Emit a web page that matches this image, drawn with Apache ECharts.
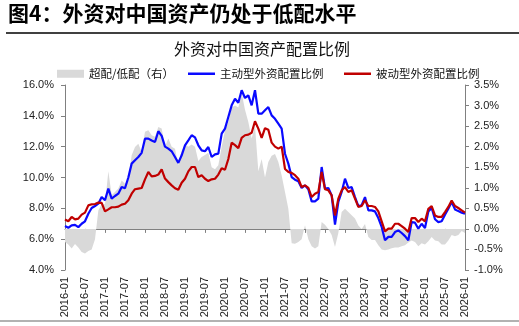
<!DOCTYPE html>
<html><head><meta charset="utf-8">
<script src="https://cdn.jsdelivr.net/npm/echarts@6/dist/echarts.min.js"></script>
<style>html,body{margin:0;padding:0;background:#fff}#c{width:519px;height:326px}</style>
</head><body><div id="c"></div>
<script>
// categories: monthly 2016-01 .. 2026-01
const months = [];
for (let y = 2016; y <= 2026; y++) {
  for (let m = 1; m <= 12; m++) {
    if (y === 2026 && m > 1) break;
    months.push(y + '-' + String(m).padStart(2, '0'));
  }
}
// 主动型外资配置比例 (%), left axis
const activeRatio = [
  6.85,6.74,6.89,6.93,6.78,7.0,7.16,7.65,8.02,8.15,8.30,8.73,8.52,9.28,8.63,8.80,8.95,9.38,9.3,10.0,
  10.9,11.12,11.33,11.6,12.52,12.52,12.4,12.3,13.0,12.7,12.0,
  11.87,11.7,11.33,10.95,11.44,12.09,12.41,12.74,12.6,12.09,11.76,11.7,11.98,11.33,11.5,11.55,12.84,13.17,13.92,
  14.68,15.11,14.85,15.66,15.16,15.33,14.68,15.66,14.14,14.14,14.36,
  14.57,14.03,13.81,13.49,13.17,11.54,10.9,10.03,9.86,9.75,9.32,9.49,9.24,8.45,8.45,8.63,10.68,9.28,9.32,
  8.84,6.94,8.41,9.06,9.92,9.32,9.38,8.73,8.15,8.2,8.73,
  7.87,7.87,7.8,7.37,6.79,5.93,6.15,6.15,6.46,6.57,6.4,6.2,5.93,7.11,7.07,6.68,7.0,6.72,7.8,
  8.02,7.29,7.11,7.16,7.59,7.97,8.41,7.93,7.82,7.72,7.65
];
// 被动型外资配置比例 (%), left axis
const passiveRatio = [
  7.28,7.16,7.44,7.28,7.33,7.59,7.72,8.19,8.26,8.28,8.37,8.35,7.8,7.93,8.07,8.07,8.11,8.24,8.3,8.52,
  8.95,9.24,9.28,9.32,9.88,10.36,10.07,10.1,10.19,10.53,9.93,
  9.7,9.49,9.3,9.2,9.66,9.92,10.4,10.68,10.68,10.03,10.14,9.92,9.77,9.88,9.92,10.19,10.6,10.5,11.2,
  12.26,12.1,11.91,12.57,12.74,12.78,12.9,13.65,13.17,12.57,13.2,
  13.1,12.26,12.0,11.87,12.0,10.55,10.36,10.3,10.15,9.92,9.38,9.49,9.32,8.73,8.95,9.06,10.36,9.24,9.17,
  8.84,7.54,8.63,9.17,9.38,9.06,9.17,8.63,8.09,8.15,8.52,
  8.15,8.15,8.09,7.8,7.16,6.5,6.68,6.68,7.0,7.0,6.85,6.68,6.46,7.37,7.37,7.11,7.33,7.16,7.97,
  8.15,7.54,7.44,7.44,7.76,8.09,8.5,8.15,8.02,7.87,7.72
];
// 超配/低配（右） (%), right axis
const overUnder = [
  -0.32,-0.38,-0.48,-0.37,-0.45,-0.56,-0.6,-0.54,-0.5,-0.25,0.45,0.6,0.6,1.4,0.82,0.9,0.98,1.18,1.1,1.2,
  1.79,1.99,2.07,1.87,2.36,2.4,2.28,2.24,2.48,2.44,2.0,
  2.2,2.0,1.95,1.55,1.9,2.05,2.0,2.05,2.0,1.65,1.75,1.8,1.85,1.5,1.45,1.55,2.0,2.4,2.6,
  2.95,3.0,2.95,3.3,2.9,2.6,2.2,2.5,1.4,1.7,1.25,
  1.63,1.78,1.82,1.63,1.3,0.9,0.49,-0.35,-0.36,-0.32,-0.25,0.09,-0.25,-0.42,-0.48,-0.42,0.17,0.1,0.0,
  -0.15,-0.44,-0.1,0.41,0.49,0.41,0.33,0.25,0.08,0.0,0.12,
  -0.2,-0.27,-0.27,-0.4,-0.5,-0.52,-0.5,-0.47,-0.45,-0.45,-0.42,-0.4,-0.33,-0.28,-0.32,-0.42,-0.35,-0.38,-0.3,
  -0.2,-0.28,-0.3,-0.38,-0.38,-0.28,-0.15,-0.18,-0.15,-0.05,-0.1
];
const seriesNames = ['超配/低配（右）', '主动型外资配置比例', '被动型外资配置比例'];
const figureHeading = '图4：外资对中国资产仍处于低配水平';
const chartTitle = '外资对中国资产配置比例';

const latin = '"Liberation Sans", Arial, sans-serif';
const cjk = '"Noto Sans CJK SC", sans-serif';
const chart = echarts.init(document.getElementById('c'), null, {renderer: 'canvas'});
const legendBase = {
  orient: 'horizontal', itemWidth: 27, itemGap: 10,
  textStyle: {fontFamily: cjk, fontSize: 11.5, color: '#111'},
  selectedMode: false
};
chart.setOption({
  animation: false,
  backgroundColor: '#fff',
  graphic: [
    {type: 'text', left: 8, top: 3, style: {text: figureHeading, font: 'bold 21px ' + cjk, fill: '#000'}},
    {type: 'line', shape: {x1: 6, y1: 33, x2: 519, y2: 33}, style: {stroke: '#000', lineWidth: 1.5}},
    {type: 'text', x: 262, y: 49, style: {text: chartTitle, font: '16px ' + cjk, fill: '#111', align: 'center', verticalAlign: 'middle'}},
    {type: 'line', shape: {x1: 0, y1: 321, x2: 519, y2: 321}, style: {stroke: '#999', lineWidth: 1.5}}
  ],
  legend: [
    Object.assign({}, legendBase, {left: 52, top: 63, itemHeight: 8, data: [{name: seriesNames[0], icon: 'rect'}]}),
    Object.assign({}, legendBase, {left: 183, top: 63, itemHeight: 2.5, data: [{name: seriesNames[1], icon: 'rect'}]}),
    Object.assign({}, legendBase, {left: 339, top: 63, itemHeight: 2.5, data: [{name: seriesNames[2], icon: 'rect'}]})
  ],
  grid: {left: 65, right: 54, top: 85, height: 185, containLabel: false},
  xAxis: {
    type: 'category', data: months, boundaryGap: false,
    axisLine: {lineStyle: {color: '#808080', width: 1}},
    axisTick: {interval: 5, length: 4, lineStyle: {color: '#808080'}},
    axisLabel: {interval: 5, rotate: 90, margin: 7, fontFamily: latin, fontSize: 11, color: '#222'},
    splitLine: {show: false}
  },
  yAxis: [
    {
      type: 'value', min: 4, max: 16, interval: 2, position: 'left',
      axisLine: {show: true, lineStyle: {color: '#808080', width: 1}},
      axisTick: {show: true, length: 4, lineStyle: {color: '#808080'}},
      axisLabel: {margin: 11, fontFamily: latin, fontSize: 11, color: '#222', formatter: v => v.toFixed(1) + '%'},
      splitLine: {show: false}
    },
    {
      type: 'value', min: -1, max: 3.5, interval: 0.5, position: 'right',
      axisLine: {show: true, lineStyle: {color: '#808080', width: 1}},
      axisTick: {show: true, length: 4, lineStyle: {color: '#808080'}},
      axisLabel: {margin: 9, fontFamily: latin, fontSize: 11, color: '#222', formatter: v => v.toFixed(1) + '%'},
      splitLine: {show: false}
    }
  ],
  series: [
    {
      name: seriesNames[0], type: 'line', yAxisIndex: 1, data: overUnder,
      symbol: 'none', showSymbol: false, color: '#d9d9d9',
      lineStyle: {width: 0, color: '#d9d9d9'},
      areaStyle: {color: '#d9d9d9', opacity: 1, origin: 0}, z: 1
    },
    {
      name: seriesNames[1], type: 'line', yAxisIndex: 0, data: activeRatio,
      symbol: 'none', showSymbol: false, color: '#0a0aff',
      lineStyle: {width: 2.2, color: '#0a0aff'}, z: 2
    },
    {
      name: seriesNames[2], type: 'line', yAxisIndex: 0, data: passiveRatio,
      symbol: 'none', showSymbol: false, color: '#c00000',
      lineStyle: {width: 2.2, color: '#c00000'}, z: 3
    }
  ]
});
</script></body></html>
